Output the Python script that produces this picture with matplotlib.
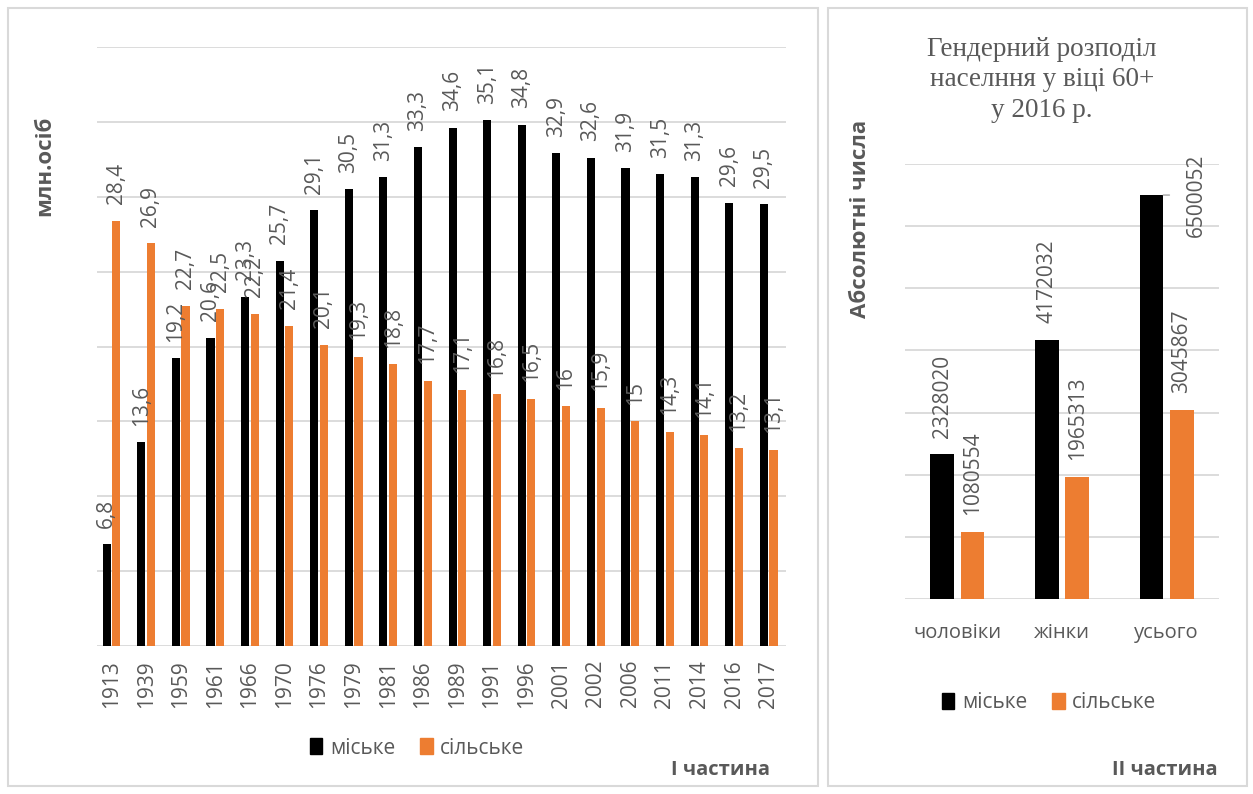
import matplotlib
matplotlib.use("Agg")
import matplotlib.pyplot as plt
from matplotlib.patches import Rectangle, Patch
import numpy as np

plt.rcParams['font.family'] = ['Open Sans', 'DejaVu Sans']

# --- data -------------------------------------------------------------
years = ['1913', '1939', '1959', '1961', '1966', '1970', '1976', '1979', '1981', '1986',
         '1989', '1991', '1996', '2001', '2002', '2006', '2011', '2014', '2016', '2017']
urban = [6.8, 13.6, 19.2, 20.6, 23.3, 25.7, 29.1, 30.5, 31.3, 33.3,
         34.6, 35.1, 34.8, 32.9, 32.6, 31.9, 31.5, 31.3, 29.6, 29.5]
rural = [28.4, 26.9, 22.7, 22.5, 22.2, 21.4, 20.1, 19.3, 18.8, 17.7,
         17.1, 16.8, 16.5, 16, 15.9, 15, 14.3, 14.1, 13.2, 13.1]

groups = ['чоловіки', 'жінки', 'усього']
urban_60 = [2328020, 4172032, 6500052]
rural_60 = [1080554, 1965313, 3045867]

series_names = ['міське', 'сільське']
BLACK = '#000000'
ORANGE = '#ED7D31'
GRAY = '#595959'
GRID = '#d9d9d9'
LBL = 15

W, H = 1253, 794
fig = plt.figure(figsize=(W / 100, H / 100), dpi=100)


def px_axes(x0, y0, x1, y1):
    # pixel box (top-left origin) -> figure axes
    return fig.add_axes([x0 / W, 1 - y1 / H, (x1 - x0) / W, (y1 - y0) / H])


# panel frames
for x0, x1 in [(8, 818), (828, 1247)]:
    fig.patches.append(Rectangle((x0 / W, 1 - 786 / H), (x1 - x0) / W, 778 / H,
                                 transform=fig.transFigure, fill=False,
                                 edgecolor=GRID, lw=1.5))


def style(ax):
    for s in ax.spines.values():
        s.set_visible(False)
    ax.tick_params(length=0, colors=GRAY)
    ax.set_yticklabels([])
    ax.grid(axis='y', color=GRID, lw=1.3)
    ax.set_axisbelow(True)


def fmt(v):
    return f"{v:g}".replace('.', ',')


# --- part I -----------------------------------------------------------
ax1 = px_axes(97, 47, 786, 646)
x = np.arange(len(years))
w, off = 0.235, 0.14
ax1.bar(x - off, urban, w, color=BLACK)
ax1.bar(x + off, rural, w, color=ORANGE)
ax1.set_xlim(-0.42, len(years) - 0.5)
ax1.set_ylim(0, 40)
ax1.set_yticks(np.arange(0, 41, 5))
style(ax1)
ax1.set_xticks(x)
ax1.set_xticklabels(years, rotation=90, fontsize=LBL, color=GRAY)
ax1.tick_params(axis='x', pad=10)
for xi, v in zip(x - off, urban):
    ax1.annotate(fmt(v), (xi, v), xytext=(0, 12), textcoords='offset points',
                 rotation=90, ha='center', va='bottom', fontsize=LBL, color=GRAY)
for xi, v in zip(x + off, rural):
    ax1.annotate(fmt(v), (xi, v), xytext=(0, 12), textcoords='offset points',
                 rotation=90, ha='center', va='bottom', fontsize=LBL, color=GRAY)

handles = [Patch(color=BLACK), Patch(color=ORANGE)]
fig.legend(handles, series_names, loc='center', bbox_to_anchor=(417 / W, 1 - 748 / H),
           ncol=2, frameon=False, fontsize=15, labelcolor=GRAY,
           handlelength=0.6, handleheight=0.8, handletextpad=0.35, columnspacing=1.2)

fig.text(45 / W, 1 - 166 / H, 'млн.осіб', rotation=90, ha='center', va='center',
         fontsize=16, fontweight='bold', color=GRAY)
fig.text(770 / W, 1 - 770 / H, 'I частина', ha='right', va='center',
         fontsize=14.5, fontweight='bold', color=GRAY)

# --- part II ----------------------------------------------------------
ax2 = px_axes(905, 164, 1219, 599)
g = np.arange(len(groups))
w2, off2 = 0.225, 0.145
ax2.bar(g - off2, urban_60, w2, color=BLACK)
ax2.bar(g + off2, rural_60, w2, color=ORANGE)
ax2.set_xlim(-0.5, len(groups) - 0.5)
ax2.set_ylim(0, 7e6)
ax2.set_yticks(np.arange(0, 7e6 + 1, 1e6))
style(ax2)
ax2.set_xticks(g)
ax2.set_xticklabels(groups, fontsize=14.5, color=GRAY)
ax2.tick_params(axis='x', pad=17)

for i, (xi, v) in enumerate(zip(g - off2, urban_60)):
    if i == len(groups) - 1:
        # label moved beside the bar with a leader line
        ax2.annotate(str(v), (xi + w2 / 2, v), xytext=(24, 0), textcoords='offset points',
                     rotation=90, ha='center', va='center', fontsize=LBL, color=GRAY,
                     arrowprops=dict(arrowstyle='-', color='#a6a6a6', lw=1,
                                     shrinkA=10, shrinkB=0))
    else:
        ax2.annotate(str(v), (xi, v), xytext=(0, 12), textcoords='offset points',
                     rotation=90, ha='center', va='bottom', fontsize=LBL, color=GRAY)
for xi, v in zip(g + off2, rural_60):
    ax2.annotate(str(v), (xi, v), xytext=(0, 12), textcoords='offset points',
                 rotation=90, ha='center', va='bottom', fontsize=LBL, color=GRAY)

fig.legend(handles, series_names, loc='center', bbox_to_anchor=(1049 / W, 1 - 703 / H),
           ncol=2, frameon=False, fontsize=15, labelcolor=GRAY,
           handlelength=0.6, handleheight=0.8, handletextpad=0.35, columnspacing=1.2)

fig.text(1042 / W, 1 - 80 / H, 'Гендерний розподіл\nнаселння у віці 60+\nу 2016 р.',
         ha='center', va='center', fontsize=19.5, color=GRAY, linespacing=1.3,
         family=['Liberation Serif', 'DejaVu Serif'])
fig.text(861 / W, 1 - 219 / H, 'Абсолютні числа', rotation=90, ha='center', va='center',
         fontsize=16, fontweight='bold', color=GRAY)
fig.text(1218 / W, 1 - 770 / H, 'II частина', ha='right', va='center',
         fontsize=14.5, fontweight='bold', color=GRAY)

fig.savefig('out.png', dpi=100)
